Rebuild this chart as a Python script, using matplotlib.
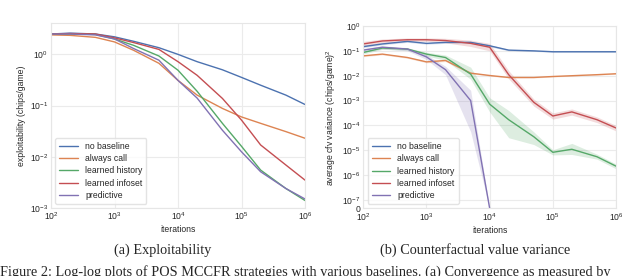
import numpy as np
import matplotlib
matplotlib.use("Agg")
import matplotlib.pyplot as plt
import seaborn as sns
from matplotlib.ticker import FixedLocator, NullLocator, FuncFormatter

sns.set_style("whitegrid")
plt.rcParams['font.family'] = ['Liberation Sans', 'DejaVu Sans']
plt.rcParams['mathtext.default'] = 'regular'

iters = [1e2, 2e2, 5e2, 1e3, 2e3, 5e3, 1e4, 2e4, 5e4, 1e5, 2e5, 5e5, 1e6]
labels = ["no baseline", "always call", "learned history", "learned infoset", "predictive"]
colors = ["#4c72b0", "#dd8452", "#55a868", "#c44e52", "#8172b3"]

# (a) exploitability
expl_none = [2.5, 2.6, 2.5, 2.2, 1.8, 1.35, 1.0, 0.72, 0.5, 0.355, 0.25, 0.16, 0.105]
expl_call = [2.4, 2.35, 2.15, 1.75, 1.2, 0.67, 0.31, 0.16, 0.088, 0.06, 0.045, 0.031, 0.023]
expl_hist = [2.5, 2.5, 2.45, 2.0, 1.5, 0.93, 0.49, 0.19, 0.045, 0.016, 0.0055, 0.0024, 0.0014]
expl_info = [2.5, 2.55, 2.5, 2.1, 1.7, 1.25, 0.72, 0.39, 0.138, 0.052, 0.017, 0.0069, 0.0035]
expl_pred = [2.5, 2.5, 2.4, 2.0, 1.3, 0.77, 0.31, 0.14, 0.033, 0.0125, 0.0051, 0.0024, 0.0015]

# (b) cfv variance (mean, lower, upper)
var_none = [0.148, 0.19, 0.24, 0.2, 0.22, 0.22, 0.16, 0.107, 0.1, 0.092, 0.092, 0.092, 0.092]
var_none_lo = [0.135, 0.175, 0.22, 0.185, 0.2, 0.2, 0.145, 0.1, 0.095, 0.088, 0.088, 0.088, 0.088]
var_none_hi = [0.16, 0.205, 0.26, 0.215, 0.24, 0.24, 0.175, 0.115, 0.105, 0.096, 0.096, 0.096, 0.096]
var_call = [0.063, 0.074, 0.054, 0.036, 0.041, 0.0127, 0.0102, 0.0085, 0.0085, 0.0093, 0.01, 0.011, 0.012]
var_call_lo = [0.058, 0.069, 0.05, 0.033, 0.037, 0.0118, 0.0097, 0.0081, 0.0081, 0.0089, 0.0096, 0.0105, 0.0115]
var_call_hi = [0.068, 0.079, 0.058, 0.039, 0.045, 0.0136, 0.0107, 0.0089, 0.0089, 0.0097, 0.0104, 0.0115, 0.0125]
var_hist = [0.086, 0.13, 0.118, 0.074, 0.054, 0.0116, 7.2e-4, 1.7e-4, 3.5e-5, 8.3e-6, 1.1e-5, 5.5e-6, 2.3e-6]
var_hist_lo = [0.075, 0.115, 0.105, 0.062, 0.042, 0.0072, 3.5e-4, 3.2e-5, 1.7e-5, 6.5e-6, 6.8e-6, 4.4e-6, 1.8e-6]
var_hist_hi = [0.098, 0.145, 0.132, 0.088, 0.068, 0.022, 1.3e-3, 4e-4, 5.5e-5, 1.05e-5, 1.9e-5, 7e-6, 2.8e-6]
var_info = [0.19, 0.25, 0.28, 0.28, 0.26, 0.2, 0.14, 0.011, 8.5e-4, 2.4e-4, 3.5e-4, 1.7e-4, 7.9e-5]
var_info_lo = [0.15, 0.21, 0.24, 0.24, 0.21, 0.15, 0.10, 0.0075, 6e-4, 1.8e-4, 2.6e-4, 1.3e-4, 6e-5]
var_info_hi = [0.24, 0.30, 0.33, 0.33, 0.32, 0.27, 0.2, 0.016, 1.15e-3, 3.2e-4, 4.6e-4, 2.2e-4, 1.0e-4]
pred_iters = [1e2, 2e2, 5e2, 1e3, 2e3, 5e3, 1e4]
var_pred = [0.107, 0.14, 0.118, 0.057, 0.0175, 1e-3, 0.0]
var_pred_lo = [0.09, 0.12, 0.1, 0.045, 0.011, 5.6e-5, 0.0]
var_pred_hi = [0.125, 0.16, 0.135, 0.07, 0.024, 2.6e-3, 0.0]

fig = plt.figure(figsize=(6.4, 2.76), dpi=100)
ax1 = fig.add_axes([0.0797, 0.2464, 0.3969, 0.6703])
ax2 = fig.add_axes([0.5677, 0.2453, 0.3948, 0.6605])

TFS = 6.2
edge = "#e6e6e6"

expl = [expl_none, expl_call, expl_hist, expl_info, expl_pred]
for y, lab, c in zip(expl, labels, colors):
    ax1.plot(iters, y, color=c, lw=1.0, label=lab)
ax1.set_xscale("log")
ax1.set_yscale("log")
ax1.set_xlim(1e2, 1e6)
ax1.set_ylim(1e-3, 4.1)
ax1.set_xticks([1e2, 1e3, 1e4, 1e5, 1e6])
ax1.set_yticks([1e-3, 1e-2, 1e-1, 1e0])
ax1.xaxis.set_minor_locator(NullLocator())
ax1.yaxis.set_minor_locator(NullLocator())
ax1.set_xlabel("iterations", fontsize=TFS, labelpad=2)
ax1.set_ylabel("exploitability (chips/game)", fontsize=TFS, labelpad=3)
ax1.legend(loc="lower left", fontsize=TFS, frameon=True, handlelength=2.2,
           borderpad=0.45, labelspacing=0.38, edgecolor="#dddddd", fancybox=True)

series = [(iters, var_none, var_none_lo, var_none_hi),
          (iters, var_call, var_call_lo, var_call_hi),
          (iters, var_hist, var_hist_lo, var_hist_hi),
          (iters, var_info, var_info_lo, var_info_hi),
          (pred_iters, var_pred, var_pred_lo, var_pred_hi)]
for (xs, y, lo, hi), lab, c in zip(series, labels, colors):
    ax2.fill_between(xs, lo, hi, color=c, alpha=0.2, lw=0)
    ax2.plot(xs, y, color=c, lw=1.0, label=lab)
ax2.set_xscale("log")
ax2.set_yscale("symlog", linthresh=1e-7, linscale=0.3)
ax2.set_xlim(1e2, 1e6)
ax2.set_ylim(0, 1.0)
ax2.set_xticks([1e2, 1e3, 1e4, 1e5, 1e6])
ax2.xaxis.set_minor_locator(NullLocator())
yt = [0, 1e-7, 1e-6, 1e-5, 1e-4, 1e-3, 1e-2, 1e-1, 1e0]
ax2.yaxis.set_major_locator(FixedLocator(yt))
ax2.yaxis.set_minor_locator(NullLocator())
ax2.yaxis.set_major_formatter(FuncFormatter(
    lambda v, p: "0" if v == 0 else r"$10^{%d}$" % int(round(np.log10(v)))))
ax2.set_xlabel("iterations", fontsize=TFS, labelpad=2)
ax2.set_ylabel(r"average cfv variance (chips/game)$^2$", fontsize=TFS, labelpad=3)
ax2.legend(loc="lower left", fontsize=TFS, frameon=True, handlelength=2.2,
           borderpad=0.45, labelspacing=0.38, edgecolor="#dddddd", fancybox=True)

for ax in (ax1, ax2):
    ax.tick_params(axis="both", labelsize=TFS, pad=2, length=0)
    ax.grid(True, color="#ebebeb", lw=0.8)
    for s in ax.spines.values():
        s.set_color(edge)
        s.set_linewidth(0.8)

fig.text(163 / 640, 1 - 250 / 276, "(a) Exploitability", ha="center", va="center",
         fontsize=10.3, family="Liberation Serif")
fig.text(475 / 640, 1 - 250 / 276, "(b) Counterfactual value variance", ha="center",
         va="center", fontsize=10.3, family="Liberation Serif")
fig.text(0.0, 0.0, "Figure 2: Log-log plots of POS MCCFR strategies with various baselines. (a) Convergence as measured by",
         ha="left", va="baseline", fontsize=10.3, family="Liberation Serif")

fig.savefig("out.png", dpi=100)
